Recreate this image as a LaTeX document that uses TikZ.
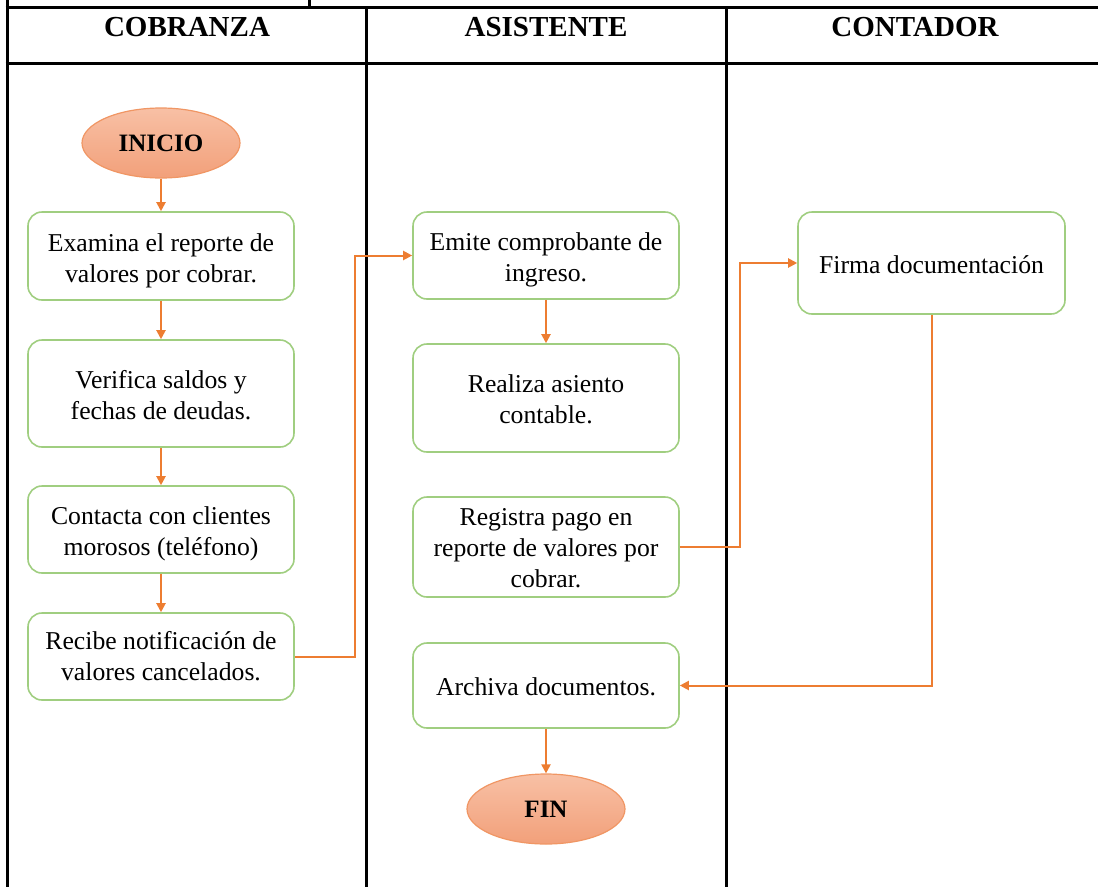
\documentclass[tikz,border=0pt]{standalone}
\usepackage{fontspec}
\setmainfont{Liberation Serif}
\usetikzlibrary{shapes.geometric,arrows.meta}
\definecolor{boxgreen}{RGB}{160,206,128}
\definecolor{arrorange}{RGB}{237,125,49}
\definecolor{elltop}{RGB}{248,192,165}
\definecolor{ellbot}{RGB}{242,160,122}
\definecolor{ellline}{RGB}{240,150,100}
\newcommand{\fbtext}[2]{\raisebox{-#1}[\height][\depth]{\begin{tabular}{@{}c@{}}#2\end{tabular}}}
\tikzset{
  lane/.style={black, line width=3pt},
  flowbox/.style={draw=boxgreen, line width=1.6pt, rounded corners=14pt, minimum width=266pt, inner sep=0pt, font=\fontsize{25.7}{31}\selectfont},
  ellnode/.style={ellipse, draw=ellline, line width=1.2pt, top color=elltop, bottom color=ellbot, minimum width=158pt, minimum height=70pt, inner sep=0pt, font=\fontsize{25}{30}\selectfont\bfseries},
  conn/.style={draw=arrorange, line width=2pt, -{Triangle[length=9pt,width=9pt]}},
  header/.style={font=\fontsize{29}{34}\selectfont\bfseries, inner sep=0pt}
}
\begin{document}
\begin{tikzpicture}[x=1pt,y=-1pt]
\useasboundingbox (0,0) rectangle (1098,887);
% table
\draw[lane] (7,0) -- (7,887);
\draw[lane] (309,0) -- (309,7);
\draw[lane] (5.5,7) -- (1098,7);
\draw[lane] (5.5,63) -- (1098,63);
\draw[lane] (366,7) -- (366,887);
\draw[lane] (726,7) -- (726,887);
\node[header] (h1) at (187,27) {COBRANZA};
\node[header] (h2) at (546,27) {ASISTENTE};
\node[header] (h3) at (915,27) {CONTADOR};
% column 1
\node[ellnode] (ini) at (161,143) {INICIO};
\node[flowbox, minimum height=88pt] (b1) at (161,256) {\fbtext{5pt}{Examina el reporte de\\valores por cobrar.}};
\node[flowbox, minimum height=107pt] (b2) at (161,393.5) {\fbtext{4.5pt}{Verifica saldos y\\fechas de deudas.}};
\node[flowbox, minimum height=87pt] (b3) at (161,529.5) {\fbtext{4pt}{Contacta con clientes\\morosos (teléfono)}};
\node[flowbox, minimum height=87pt] (b4) at (161,656.5) {\fbtext{2.5pt}{Recibe notificación de\\valores cancelados.}};
% column 2
\node[flowbox, minimum height=87pt] (b5) at (546,255.5) {\fbtext{4.5pt}{Emite comprobante de\\ingreso.}};
\node[flowbox, minimum height=108pt] (b6) at (546,398) {\fbtext{3.5pt}{Realiza asiento\\contable.}};
\node[flowbox, minimum height=100pt] (b7) at (546,547) {\fbtext{3.5pt}{Registra pago en\\reporte de valores por\\cobrar.}};
\node[flowbox, minimum height=85pt] (b8) at (546,685.5) {\fbtext{4pt}{Archiva documentos.}};
\node[ellnode] (fin) at (546,809) {FIN};
% column 3
\node[flowbox, minimum height=102pt, minimum width=267pt] (b9) at (931.5,263) {\fbtext{4pt}{Firma documentación}};
% connectors
\draw[conn] (ini) -- (b1);
\draw[conn] (b1) -- (b2);
\draw[conn] (b2) -- (b3);
\draw[conn] (b3) -- (b4);
\draw[conn] (b4.east) -- ++(60,0) |- (b5.west);
\draw[conn] (b5) -- (b6);
\draw[conn] (b7.east) -- ++(60,0) |- (b9.west);
\draw[conn] (b9.south) |- (b8.east);
\draw[conn] (b8) -- (fin);
\end{tikzpicture}
\end{document}
